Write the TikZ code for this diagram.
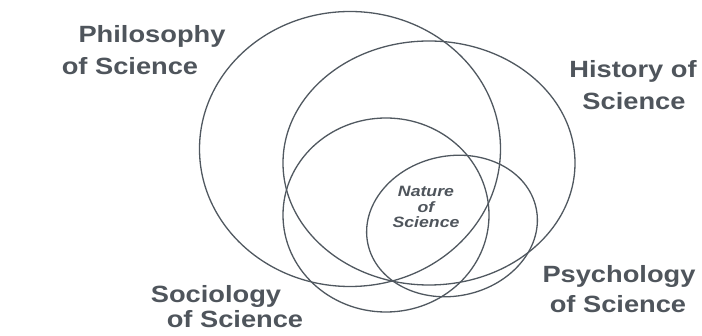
\documentclass[tikz,border=0pt]{standalone}
\usepackage{fontspec}
\newfontfamily\labfont[FakeStretch=1.16]{Liberation Sans Bold}
\newfontfamily\natfont[FakeStretch=1.18]{Liberation Sans Bold Italic}
\definecolor{ink}{HTML}{4F555C}
\definecolor{linec}{HTML}{505860}
\tikzset{
  ring/.style={draw=linec, line width=1.3pt},
  lab/.style={font=\labfont\fontsize{23.5}{26}\selectfont, text=ink, anchor=base, inner sep=0pt},
  nat/.style={font=\natfont\fontsize{15}{16}\selectfont, text=ink, anchor=base, inner sep=0pt}
}
\begin{document}
\begin{tikzpicture}[x=1pt,y=-1pt]
\useasboundingbox[fill=white] (0,0) rectangle (702,336);
% ellipses
\draw[ring] (350,149) ellipse [x radius=150.5, y radius=137.5];
\draw[ring] (429,163) ellipse [x radius=146, y radius=122];
\draw[ring] (386,215) ellipse [x radius=103, y radius=97];
\draw[ring, rotate around={12:(452,226)}] (452,226) ellipse [x radius=86, y radius=70];
% labels
\node[lab] (p1) at (152,43) {Philosophy};
\node[lab] (p2) at (130,75) {of Science};
\node[lab] (h1) at (633,78) {History of};
\node[lab] (h2) at (634,110) {Science};
\node[lab] (y1) at (619,283) {Psychology};
\node[lab] (y2) at (618,313) {of Science};
\node[lab] (s1) at (216,303) {Sociology};
\node[lab] (s2) at (235,328) {of Science};
\node[nat] (n1) at (426,197) {Nature};
\node[nat] (n2) at (426,213) {of};
\node[nat] (n3) at (426,228) {Science};
\end{tikzpicture}
\end{document}
